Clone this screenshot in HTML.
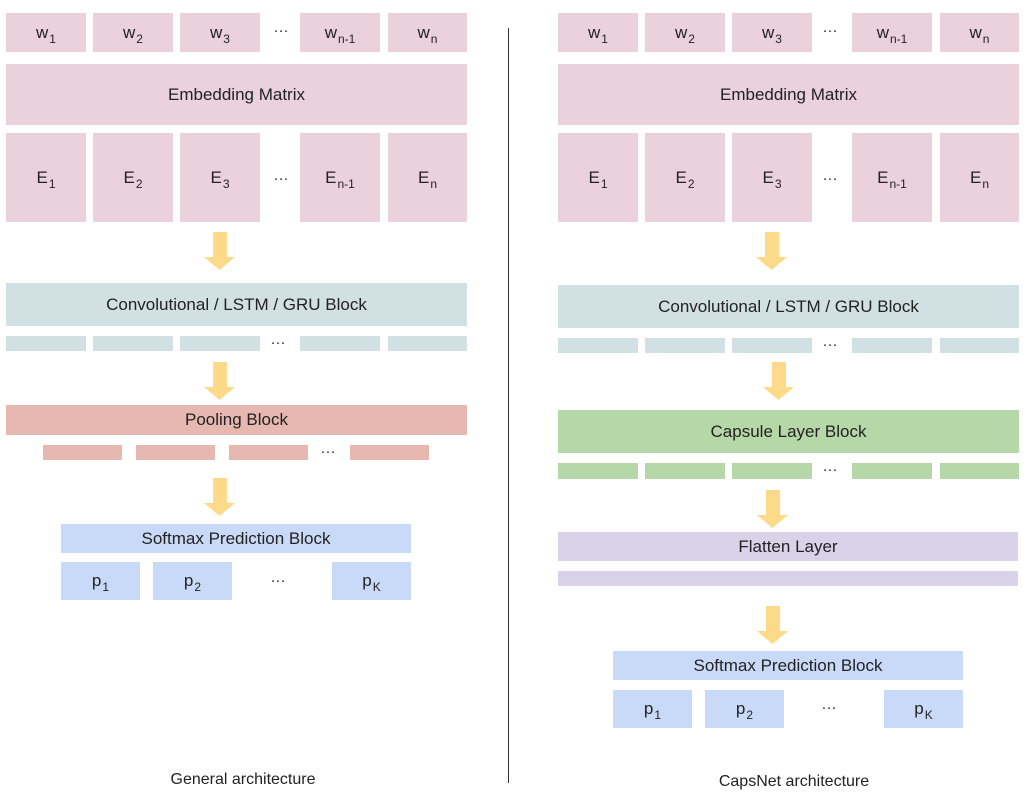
<!DOCTYPE html>
<html><head><meta charset="utf-8"><style>
body{margin:0;width:1030px;height:803px;background:#fff;position:relative;overflow:hidden;font-family:"Liberation Sans",Arial,sans-serif;color:#222}
.b{position:absolute;display:flex;align-items:center;justify-content:center;font-size:17px;white-space:nowrap}
.pk{background:#ead1dc}.gy{background:#d0e0e3}.rd{background:#e6b8af}.bl{background:#c9daf8}.gr{background:#b6d7a8}.pu{background:#d9d2e9}
sub{font-size:12px;vertical-align:-5px;margin-left:1px;line-height:0}
.d{position:absolute;font-size:15px;transform:translateX(-50%)}
.ar{position:absolute;width:31px;height:38px}
.cap{position:absolute;font-size:16px;transform:translateX(-50%)}
</style></head><body>
<div style="position:absolute;left:508px;top:28px;width:1px;height:755px;background:#333"></div>

<!-- LEFT -->
<div class="b pk" style="left:6px;top:13px;width:80px;height:39px"><span>w<sub>1</sub></span></div>
<div class="b pk" style="left:93px;top:13px;width:80px;height:39px"><span>w<sub>2</sub></span></div>
<div class="b pk" style="left:180px;top:13px;width:80px;height:39px"><span>w<sub>3</sub></span></div>
<div class="d" style="left:281px;top:22px">···</div>
<div class="b pk" style="left:300px;top:13px;width:80px;height:39px"><span>w<sub>n-1</sub></span></div>
<div class="b pk" style="left:388px;top:13px;width:79px;height:39px"><span>w<sub>n</sub></span></div>
<div class="b pk" style="left:6px;top:64px;width:461px;height:61px">Embedding Matrix</div>
<div class="b pk" style="left:6px;top:133px;width:80px;height:89px"><span>E<sub>1</sub></span></div>
<div class="b pk" style="left:93px;top:133px;width:80px;height:89px"><span>E<sub>2</sub></span></div>
<div class="b pk" style="left:180px;top:133px;width:80px;height:89px"><span>E<sub>3</sub></span></div>
<div class="d" style="left:281px;top:170px">···</div>
<div class="b pk" style="left:300px;top:133px;width:80px;height:89px"><span>E<sub>n-1</sub></span></div>
<div class="b pk" style="left:388px;top:133px;width:79px;height:89px"><span>E<sub>n</sub></span></div>

<svg class="ar" style="left:204px;top:232px" viewBox="0 0 31 38"><path d="M9 0H23V25H31L15.5 38L0 25H9Z" fill="#fdd98a"/></svg>
<div class="b gy" style="left:6px;top:283px;width:461px;height:43px">Convolutional / LSTM / GRU Block</div>
<div class="b gy" style="left:6px;top:336px;width:80px;height:15px"></div>
<div class="b gy" style="left:93px;top:336px;width:80px;height:15px"></div>
<div class="b gy" style="left:180px;top:336px;width:80px;height:15px"></div>
<div class="d" style="left:278px;top:334px">···</div>
<div class="b gy" style="left:300px;top:336px;width:80px;height:15px"></div>
<div class="b gy" style="left:388px;top:336px;width:79px;height:15px"></div>

<svg class="ar" style="left:204px;top:362px" viewBox="0 0 31 38"><path d="M9 0H23V25H31L15.5 38L0 25H9Z" fill="#fdd98a"/></svg>
<div class="b rd" style="left:6px;top:405px;width:461px;height:30px">Pooling Block</div>
<div class="b rd" style="left:43px;top:445px;width:79px;height:15px"></div>
<div class="b rd" style="left:136px;top:445px;width:79px;height:15px"></div>
<div class="b rd" style="left:229px;top:445px;width:79px;height:15px"></div>
<div class="d" style="left:328px;top:443px">···</div>
<div class="b rd" style="left:350px;top:445px;width:79px;height:15px"></div>

<svg class="ar" style="left:204px;top:478px" viewBox="0 0 31 38"><path d="M9 0H23V25H31L15.5 38L0 25H9Z" fill="#fdd98a"/></svg>
<div class="b bl" style="left:61px;top:524px;width:350px;height:29px">Softmax Prediction Block</div>
<div class="b bl" style="left:61px;top:562px;width:79px;height:38px"><span>p<sub>1</sub></span></div>
<div class="b bl" style="left:153px;top:562px;width:79px;height:38px"><span>p<sub>2</sub></span></div>
<div class="d" style="left:278px;top:572px">···</div>
<div class="b bl" style="left:332px;top:562px;width:79px;height:38px"><span>p<sub>K</sub></span></div>
<div class="cap" style="left:243px;top:771px">General architecture</div>

<!-- RIGHT -->
<div class="b pk" style="left:558px;top:13px;width:80px;height:39px"><span>w<sub>1</sub></span></div>
<div class="b pk" style="left:645px;top:13px;width:80px;height:39px"><span>w<sub>2</sub></span></div>
<div class="b pk" style="left:732px;top:13px;width:80px;height:39px"><span>w<sub>3</sub></span></div>
<div class="d" style="left:830px;top:22px">···</div>
<div class="b pk" style="left:852px;top:13px;width:80px;height:39px"><span>w<sub>n-1</sub></span></div>
<div class="b pk" style="left:940px;top:13px;width:79px;height:39px"><span>w<sub>n</sub></span></div>
<div class="b pk" style="left:558px;top:64px;width:461px;height:61px">Embedding Matrix</div>
<div class="b pk" style="left:558px;top:133px;width:80px;height:89px"><span>E<sub>1</sub></span></div>
<div class="b pk" style="left:645px;top:133px;width:80px;height:89px"><span>E<sub>2</sub></span></div>
<div class="b pk" style="left:732px;top:133px;width:80px;height:89px"><span>E<sub>3</sub></span></div>
<div class="d" style="left:830px;top:170px">···</div>
<div class="b pk" style="left:852px;top:133px;width:80px;height:89px"><span>E<sub>n-1</sub></span></div>
<div class="b pk" style="left:940px;top:133px;width:79px;height:89px"><span>E<sub>n</sub></span></div>

<svg class="ar" style="left:756px;top:232px" viewBox="0 0 31 38"><path d="M9 0H23V25H31L15.5 38L0 25H9Z" fill="#fdd98a"/></svg>
<div class="b gy" style="left:558px;top:285px;width:461px;height:43px">Convolutional / LSTM / GRU Block</div>
<div class="b gy" style="left:558px;top:338px;width:80px;height:15px"></div>
<div class="b gy" style="left:645px;top:338px;width:80px;height:15px"></div>
<div class="b gy" style="left:732px;top:338px;width:80px;height:15px"></div>
<div class="d" style="left:830px;top:336px">···</div>
<div class="b gy" style="left:852px;top:338px;width:80px;height:15px"></div>
<div class="b gy" style="left:940px;top:338px;width:79px;height:15px"></div>

<svg class="ar" style="left:763px;top:362px" viewBox="0 0 31 38"><path d="M9 0H23V25H31L15.5 38L0 25H9Z" fill="#fdd98a"/></svg>
<div class="b gr" style="left:558px;top:410px;width:461px;height:43px">Capsule Layer Block</div>
<div class="b gr" style="left:558px;top:463px;width:80px;height:16px"></div>
<div class="b gr" style="left:645px;top:463px;width:80px;height:16px"></div>
<div class="b gr" style="left:732px;top:463px;width:80px;height:16px"></div>
<div class="d" style="left:830px;top:461px">···</div>
<div class="b gr" style="left:852px;top:463px;width:80px;height:16px"></div>
<div class="b gr" style="left:940px;top:463px;width:79px;height:16px"></div>

<svg class="ar" style="left:757px;top:490px" viewBox="0 0 31 38"><path d="M9 0H23V25H31L15.5 38L0 25H9Z" fill="#fdd98a"/></svg>
<div class="b pu" style="left:558px;top:532px;width:460px;height:29px">Flatten Layer</div>
<div class="b pu" style="left:558px;top:571px;width:460px;height:15px"></div>

<svg class="ar" style="left:757px;top:606px" viewBox="0 0 31 38"><path d="M9 0H23V25H31L15.5 38L0 25H9Z" fill="#fdd98a"/></svg>
<div class="b bl" style="left:613px;top:651px;width:350px;height:29px">Softmax Prediction Block</div>
<div class="b bl" style="left:613px;top:690px;width:79px;height:38px"><span>p<sub>1</sub></span></div>
<div class="b bl" style="left:705px;top:690px;width:79px;height:38px"><span>p<sub>2</sub></span></div>
<div class="d" style="left:829px;top:699px">···</div>
<div class="b bl" style="left:884px;top:690px;width:79px;height:38px"><span>p<sub>K</sub></span></div>
<div class="cap" style="left:794px;top:773px">CapsNet architecture</div>
</body></html>
